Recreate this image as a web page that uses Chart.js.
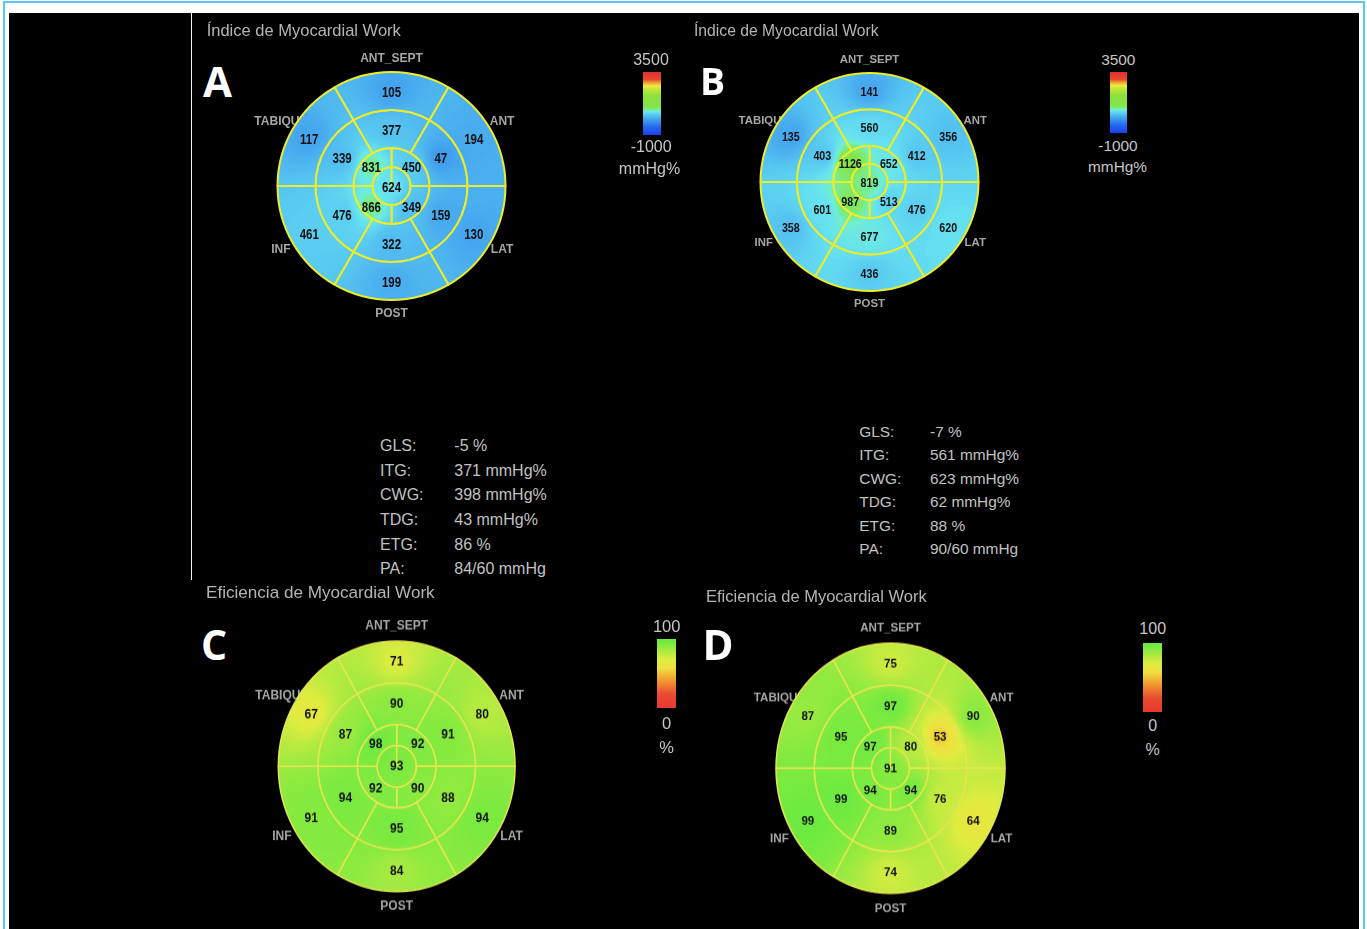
<!DOCTYPE html>
<html lang="es">
<head>
<meta charset="utf-8">
<title>Myocardial Work</title>
<script src="https://cdn.jsdelivr.net/npm/chart.js@4.4.1/dist/chart.umd.min.js"></script>
<style>
  html, body { margin: 0; padding: 0; background: #ffffff; }
  body { position: relative; width: 1367px; height: 929px; overflow: hidden;
         font-family: "Liberation Sans", Arial, sans-serif; }
  #frame { position: absolute; left: 3px; top: 1px; width: 1358px; height: 980px; border: 2px solid #5ec6f2; }
  #board { position: absolute; left: 9px; top: 13px; width: 1350px; height: 940px; background: #000; }
  #divider { position: absolute; left: 191px; top: 13px; width: 1px; height: 567px; background: #f2f2f2; }
  .txt { position: absolute; white-space: nowrap; line-height: normal; }
  .bar { position: absolute; }
  canvas { position: absolute; }
</style>
</head>
<body>
<div id="frame"></div>
<div id="board"></div>
<div id="divider"></div>
<script>
// ---- Segment values (17-segment bullseye) ----
// basal / mid rings: ANT_SEPT, ANT, LAT, POST, INF, TABIQUE (clockwise from top)
// apical ring: quadrants clockwise from top-right; apex: single value
const workA_basal  = [105, 194, 130, 199, 461, 117];
const workA_mid    = [377, 47, 159, 322, 476, 339];
const workA_apical = [450, 349, 866, 831];
const workA_apex   = [624];

const workB_basal  = [141, 356, 620, 436, 358, 135];
const workB_mid    = [560, 412, 476, 677, 601, 403];
const workB_apical = [652, 513, 987, 1126];
const workB_apex   = [819];

const effC_basal  = [71, 80, 94, 84, 91, 67];
const effC_mid    = [90, 91, 88, 95, 94, 87];
const effC_apical = [92, 90, 92, 98];
const effC_apex   = [93];

const effD_basal  = [75, 90, 64, 74, 99, 87];
const effD_mid    = [97, 53, 76, 89, 99, 95];
const effD_apical = [80, 94, 94, 97];
const effD_apex   = [91];

const wallLabels = ['ANT_SEPT', 'ANT', 'LAT', 'POST', 'INF', 'TABIQUE'];

// colour scale limits and their tick labels
const workRange = [-1000, 3500];
const workTicks = ['3500', '-1000', 'mmHg%'];
const effRange = [0, 100];
const effTicks = ['100', '0', '%'];

// global indices
const statLabels = ['GLS:', 'ITG:', 'CWG:', 'TDG:', 'ETG:', 'PA:'];
const statsA = ['-5 %', '371 mmHg%', '398 mmHg%', '43 mmHg%', '86 %', '84/60 mmHg'];
const statsB = ['-7 %', '561 mmHg%', '623 mmHg%', '62 mmHg%', '88 %', '90/60 mmHg'];

// ---- colour maps (position 0..1 along the scale) ----
const workStops = [
  [0.00, '#1840f0'], [0.12, '#2466f0'], [0.22, '#3c96ee'], [0.27, '#4aaeef'],
  [0.31, '#56c4f0'], [0.36, '#66e2f0'], [0.385, '#70eed0'], [0.41, '#7cec78'],
  [0.46, '#84e448'], [0.62, '#8ce03c'], [0.73, '#c8e838'], [0.78, '#f0e840'],
  [0.83, '#f0a030'], [0.88, '#e84830'], [1.00, '#e03030']
];
const effStops = [
  [0.00, '#e83a30'], [0.20, '#e84a30'], [0.40, '#f09a30'], [0.58, '#f0e040'],
  [0.70, '#e0ec40'], [0.82, '#b0ea40'], [0.92, '#80ea40'], [1.00, '#68ea40']
];

function hexRgb(h) { return [1, 3, 5].map(i => parseInt(h.slice(i, i + 2), 16)); }
function buildLut(stops) {
  const lut = new Uint8ClampedArray(256 * 3);
  const s = stops.map(([p, c]) => [p, ...hexRgb(c)]);
  for (let i = 0; i < 256; i++) {
    const t = i / 255;
    let k = 0;
    while (k < s.length - 2 && t > s[k + 1][0]) k++;
    const a = s[k], b = s[k + 1];
    const u = Math.min(1, Math.max(0, (t - a[0]) / (b[0] - a[0])));
    for (let c = 0; c < 3; c++) lut[i * 3 + c] = a[c + 1] + (b[c + 1] - a[c + 1]) * u;
  }
  return lut;
}
function cssGradient(stops) {
  return 'linear-gradient(to top, ' + stops.map(([p, c]) => `${c} ${(p * 100).toFixed(1)}%`).join(', ') + ')';
}

// ---- panel layout ----
const panels = [
  { rings: [workA_basal, workA_mid, workA_apical, workA_apex], range: workRange, stops: workStops,
    cx: 391.5, cy: 186, R: 114, sy: 1, line: '#ecec28', lw: 2,
    wallFont: 12, valueFont: 14, valueSx: 0.82, valueDy: 1.8 },
  { rings: [workB_basal, workB_mid, workB_apical, workB_apex], range: workRange, stops: workStops,
    cx: 869.5, cy: 182, R: 109, sy: 1, line: '#ecec28', lw: 2,
    wallFont: 11.4, valueFont: 13, valueSx: 0.82, valueDy: 1.2 },
  { rings: [effC_basal, effC_mid, effC_apical, effC_apex], range: effRange, stops: effStops,
    cx: 396.7, cy: 766.3, R: 118.4, sy: 1.058, line: '#e6e650', lw: 1.5,
    wallFont: 12, valueFont: 12, valueSx: 1, valueDy: 0.3 },
  { rings: [effD_basal, effD_mid, effD_apical, effD_apex], range: effRange, stops: effStops,
    cx: 890.5, cy: 768.3, R: 114.5, sy: 1.092, line: '#e6e650', lw: 1.5,
    wallFont: 11.6, valueFont: 11.6, valueSx: 1, valueDy: 0.3 }
];
const ringShape = [
  { rotation: -30, weight: 2 },   // basal
  { rotation: -30, weight: 2 },   // mid
  { rotation: 0,   weight: 1 },   // apical
  { rotation: 0,   weight: 1 }    // apex
];

// smooth value field (inverse distance weighting between segment centres) used as arc fill
const heatPlugin = {
  id: 'heatField',
  afterLayout(chart) {
    const p = chart.canvas.$panel;
    const area = chart.chartArea;
    const cx = (area.left + area.right) / 2, cy = (area.top + area.bottom) / 2;
    const R = (Math.min(area.right - area.left, area.bottom - area.top) - p.lw) / 2;
    const sets = chart.data.datasets;
    const totalW = sets.reduce((s, d) => s + d.weight, 0);
    const pts = [];
    let outer = R;
    sets.forEach(ds => {
      const inner = outer - R * ds.weight / totalW;
      const rMid = inner < 0.5 ? 0 : (inner + outer) / 2;
      const n = ds.segValues.length;
      ds.segValues.forEach((v, i) => {
        const a = (ds.rotation - 90 + (i + 0.5) * 360 / n) * Math.PI / 180;
        pts.push([cx + rMid * Math.cos(a), cy + rMid * Math.sin(a),
                  (v - p.range[0]) / (p.range[1] - p.range[0])]);
      });
      outer = inner;
    });
    const W = chart.width, H = chart.height;
    const off = document.createElement('canvas');
    off.width = W; off.height = H;
    const octx = off.getContext('2d');
    const img = octx.createImageData(W, H);
    const lut = p.lut, lim = (R + 3) * (R + 3), pw = p.power / 2;
    for (let y = 0; y < H; y++) {
      for (let x = 0; x < W; x++) {
        const fx = x + 0.5, fy = y + 0.5;
        if ((fx - cx) ** 2 + (fy - cy) ** 2 > lim) continue;
        let sw = 0, sv = 0;
        for (const [px, py, f] of pts) {
          const w = Math.pow((fx - px) ** 2 + (fy - py) ** 2 + 1, -pw);
          sw += w; sv += w * f;
        }
        const idx = Math.max(0, Math.min(255, Math.round(sv / sw * 255)));
        const o = (y * W + x) * 4;
        img.data[o] = lut[idx * 3]; img.data[o + 1] = lut[idx * 3 + 1];
        img.data[o + 2] = lut[idx * 3 + 2]; img.data[o + 3] = 255;
      }
    }
    octx.putImageData(img, 0, 0);
    chart.$heat = chart.ctx.createPattern(off, 'no-repeat');
  }
};

// wall names (under the disc) and segment values (on top)
const labelPlugin = {
  id: 'segLabels',
  beforeDatasetsDraw(chart) {
    const p = chart.canvas.$panel;
    const ctx = chart.ctx;
    const meta = chart.getDatasetMeta(0);
    ctx.save();
    ctx.font = `bold ${p.wallFont}px "Liberation Sans", Arial, sans-serif`;
    ctx.fillStyle = '#a6a6a6';
    ctx.textAlign = 'center';
    ctx.textBaseline = 'middle';
    meta.data.forEach((arc, i) => {
      const a = (arc.startAngle + arc.endAngle) / 2;
      const r = arc.outerRadius * 1.12;
      ctx.fillText(wallLabels[i], arc.x + r * Math.cos(a), arc.y + r * Math.sin(a));
    });
    ctx.restore();
  },
  afterDatasetsDraw(chart) {
    const p = chart.canvas.$panel;
    const ctx = chart.ctx;
    chart.data.datasets.forEach((ds, d) => {
      chart.getDatasetMeta(d).data.forEach((arc, i) => {
        const pt = arc.innerRadius < 0.5 ? { x: arc.x, y: arc.y } : arc.getCenterPoint();
        ctx.save();
        ctx.translate(pt.x, pt.y + p.valueDy);
        ctx.scale(p.valueSx, 1);
        ctx.font = `bold ${p.valueFont}px "Liberation Sans", Arial, sans-serif`;
        ctx.fillStyle = '#121212';
        ctx.textAlign = 'center';
        ctx.textBaseline = 'middle';
        ctx.fillText(String(ds.segValues[i]), 0, 0);
        ctx.restore();
      });
    });
  }
};

function addText(txt, x, baseline, size, opts = {}) {
  const el = document.createElement('div');
  el.className = 'txt';
  el.textContent = txt;
  const fam = opts.family || '"Liberation Sans", Arial, sans-serif';
  const asc = opts.asc || 0.92;
  el.style.fontFamily = fam;
  el.style.fontSize = size + 'px';
  el.style.fontWeight = opts.weight || 'normal';
  el.style.color = opts.color || '#b4b4b4';
  el.style.top = (baseline - asc * size) + 'px';
  el.style.left = x + 'px';
  if (opts.center) el.style.transform = 'translateX(-50%)';
  document.body.appendChild(el);
}

function makeBullseye(p) {
  const W = 320, H = 320;
  p.lut = buildLut(p.stops);
  p.power = 2.5;
  const left = Math.round(p.cx - W / 2), top = Math.round(p.cy - H / 2);
  const lx = p.cx - left, ly = p.cy - top;
  const S = 2 * p.R + p.lw;
  const cv = document.createElement('canvas');
  cv.width = W; cv.height = H;
  cv.style.left = left + 'px'; cv.style.top = top + 'px';
  cv.style.width = W + 'px'; cv.style.height = H + 'px';
  if (p.sy !== 1) {
    cv.style.transformOrigin = `${lx}px ${ly}px`;
    cv.style.transform = `scaleY(${p.sy})`;
  }
  cv.$panel = p;
  document.body.appendChild(cv);
  new Chart(cv, {
    type: 'doughnut',
    data: {
      datasets: p.rings.map((vals, r) => ({
        data: vals.map(() => 1),
        segValues: vals,
        rotation: ringShape[r].rotation,
        weight: ringShape[r].weight,
        backgroundColor: (c) => c.chart.$heat || '#000',
        borderColor: p.line,
        borderWidth: p.lw,
        hoverOffset: 0
      }))
    },
    options: {
      responsive: false,
      animation: false,
      events: [],
      cutout: 0,
      layout: { padding: { left: lx - S / 2, right: W - lx - S / 2, top: ly - S / 2, bottom: H - ly - S / 2 } },
      plugins: { legend: { display: false }, tooltip: { enabled: false } }
    },
    plugins: [heatPlugin, labelPlugin]
  });
}

panels.forEach(makeBullseye);

// ---- titles ----
addText('Índice de Myocardial Work', 206.7, 36, 16.5);
addText('Índice de Myocardial Work', 694, 36.7, 15.7);
addText('Eficiencia de Myocardial Work', 206, 598.3, 17.1);
addText('Eficiencia de Myocardial Work', 706, 601.7, 16.5);

// ---- panel letters ----
const letterFont = { family: '"Open Sans", "Liberation Sans", sans-serif', asc: 1.069, weight: 'bold', color: '#ffffff' };
addText('A', 203, 97, 42, letterFont);
addText('B', 700, 95, 37.4, letterFont);
addText('C', 201, 659.5, 41, letterFont);
addText('D', 702.5, 660, 42, letterFont);

// ---- colour bars ----
function colourBar(stops, ticks, bx, by, bw, bh, cx, bases, size) {
  const bar = document.createElement('div');
  bar.className = 'bar';
  Object.assign(bar.style, { left: bx + 'px', top: by + 'px', width: bw + 'px', height: bh + 'px', background: cssGradient(stops) });
  document.body.appendChild(bar);
  ticks.forEach((t, i) => addText(t, cx[i], bases[i], size, { center: true, color: '#c6c6c6' }));
}
colourBar(workStops, workTicks, 643, 72, 18, 63, [651, 651.2, 649.5], [66, 152.7, 175], 16);
colourBar(workStops, workTicks, 1110, 72.3, 17.3, 60.4, [1118.3, 1118, 1117.5], [65, 150.7, 171.7], 15.4);
colourBar(effStops, effTicks, 656.7, 639.3, 19.3, 69, [666.7, 666.7, 666.7], [631.7, 729, 753.3], 16.5);
colourBar(effStops, effTicks, 1143.3, 642.7, 18.4, 69, [1152.7, 1152.7, 1152.7], [635, 731.7, 756], 16);

// ---- global indices ----
statLabels.forEach((l, i) => {
  addText(l, 380, 451.7 + i * 24.7, 16, { color: '#c2c2c2' });
  addText(statsA[i], 454.3, 451.7 + i * 24.7, 16, { color: '#c2c2c2' });
  addText(l, 859.3, 436.7 + i * 23.5, 15.4, { color: '#c2c2c2' });
  addText(statsB[i], 930, 436.7 + i * 23.5, 15.4, { color: '#c2c2c2' });
});
</script>
</body>
</html>
